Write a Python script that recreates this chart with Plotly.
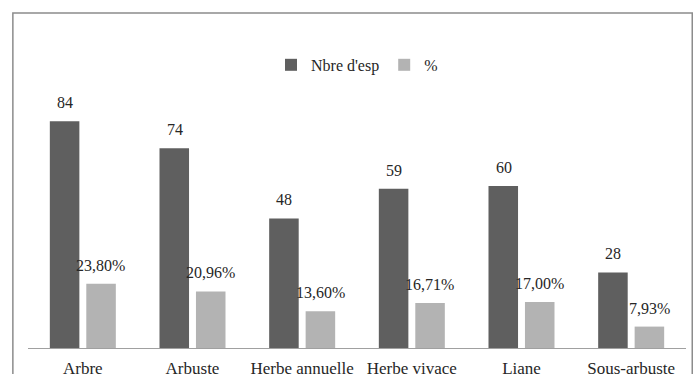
import plotly.graph_objects as go

# Growth forms and their species counts / shares
categories = ["Arbre", "Arbuste", "Herbe annuelle", "Herbe vivace", "Liane", "Sous-arbuste"]
nb_especes = [84, 74, 48, 59, 60, 28]
pourcentages = [23.80, 20.96, 13.60, 16.71, 17.00, 7.93]

FONT = "Liberation Serif"
TEXT = "#262626"
DARK = "#5f5f5f"
LIGHT = "#b3b3b3"

fig = go.Figure()
fig.add_trace(go.Bar(x=categories, y=nb_especes, name="Nbre d'esp",
                     marker=dict(color=DARK, line=dict(width=0))))
fig.add_trace(go.Bar(x=categories, y=pourcentages, name="%",
                     marker=dict(color=LIGHT, line=dict(width=0))))

# Value labels above each bar
annotations = []
for cat, n, p in zip(categories, nb_especes, pourcentages):
    annotations.append(dict(x=cat, y=n, text=str(n), xref="x", yref="y",
                            xanchor="center", yanchor="bottom", showarrow=False,
                            xshift=-18, yshift=8,
                            font=dict(family=FONT, size=16, color=TEXT)))
    annotations.append(dict(x=cat, y=p, text=f"{p:.2f}".replace(".", ",") + "%",
                            xref="x", yref="y", xanchor="center", yanchor="bottom",
                            showarrow=False, xshift=18, yshift=8,
                            font=dict(family=FONT, size=16, color=TEXT)))

fig.update_layout(
    width=698, height=374,
    margin=dict(l=28, r=12, t=105, b=26, autoexpand=False),
    paper_bgcolor="white", plot_bgcolor="white",
    barmode="group", bargap=0.335, bargroupgap=0.19,
    font=dict(family=FONT, size=16, color=TEXT),
    legend=dict(orientation="h", x=0.5, y=1.165, xanchor="center", yanchor="middle",
                font=dict(family=FONT, size=16, color=TEXT),
                itemwidth=30, traceorder="normal"),
    annotations=annotations,
    shapes=[dict(type="rect", xref="paper", yref="paper",
                 x0=-0.023, x1=1.0095, y0=-0.2, y1=1.379,
                 line=dict(color="#8c8c8c", width=1.5), fillcolor="rgba(0,0,0,0)",
                 layer="below")],
)
fig.update_xaxes(showline=True, linecolor="#a0a0a0", linewidth=1, ticks="",
                 ticklabelstandoff=5, automargin=False,
                 tickfont=dict(family=FONT, size=17, color=TEXT), showgrid=False)
fig.update_yaxes(range=[0, 90], visible=False, showgrid=False, zeroline=False,
                 automargin=False)

fig.write_html("out.html")
